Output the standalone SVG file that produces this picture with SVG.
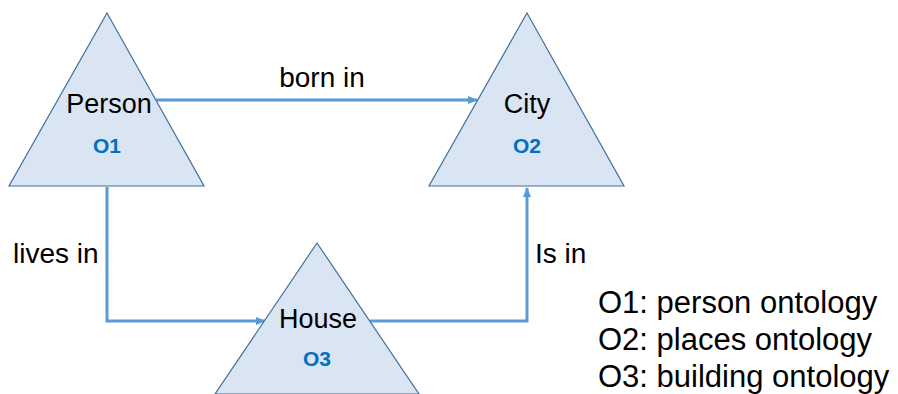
<svg xmlns="http://www.w3.org/2000/svg" width="898" height="394" viewBox="0 0 898 394">
<style>
.tri{fill:#DAE5F3;stroke:#41719C;stroke-width:1.2}
.lbl{font-family:"Liberation Sans",Arial,sans-serif;font-size:27px;fill:#000}
.code{font-family:"Liberation Sans",Arial,sans-serif;font-size:21px;font-weight:bold;fill:#0070C0}
.edge{fill:none;stroke:#5B9BD5;stroke-width:3}
.leg{font-family:"Liberation Sans",Arial,sans-serif;font-size:31px;fill:#000}
</style>
<defs>
<marker id="arr" markerWidth="10" markerHeight="10" refX="9" refY="5" orient="auto" markerUnits="userSpaceOnUse">
<path d="M0,1 L10,5 L0,9 Z" fill="#5B9BD5"/>
</marker>
</defs>
<rect width="898" height="394" fill="#fff"/>
<g id="connectors">
<path class="edge" d="M156,100 H477" marker-end="url(#arr)"/>
<path class="edge" d="M107,187 V321 H265" marker-end="url(#arr)"/>
<path class="edge" d="M370,321 H527 V188" marker-end="url(#arr)"/>
<text class="lbl" x="322" y="87" text-anchor="middle" style="font-size:28px">born in</text>
<text class="lbl" x="13" y="263" style="font-size:28px">lives in</text>
<text class="lbl" x="535" y="263" style="font-size:28px">Is in</text>
</g>
<g id="person">
<polygon class="tri" points="107,13 204,186 9,186"/>
<text class="lbl" x="109" y="113" text-anchor="middle">Person</text>
<text class="code" x="107" y="153" text-anchor="middle">O1</text>
</g>
<g id="city">
<polygon class="tri" points="527,13 624,186 429,186"/>
<text class="lbl" x="527" y="113" text-anchor="middle">City</text>
<text class="code" x="527" y="153" text-anchor="middle">O2</text>
</g>
<g id="house">
<polygon class="tri" points="317,243 419,394 215,394"/>
<text class="lbl" x="318" y="328" text-anchor="middle">House</text>
<text class="code" x="317" y="366" text-anchor="middle">O3</text>
</g>
<g id="legend">
<text class="leg" x="598" y="313">O1: person ontology</text>
<text class="leg" x="598" y="350">O2: places ontology</text>
<text class="leg" x="598" y="387">O3: building ontology</text>
</g>
</svg>
